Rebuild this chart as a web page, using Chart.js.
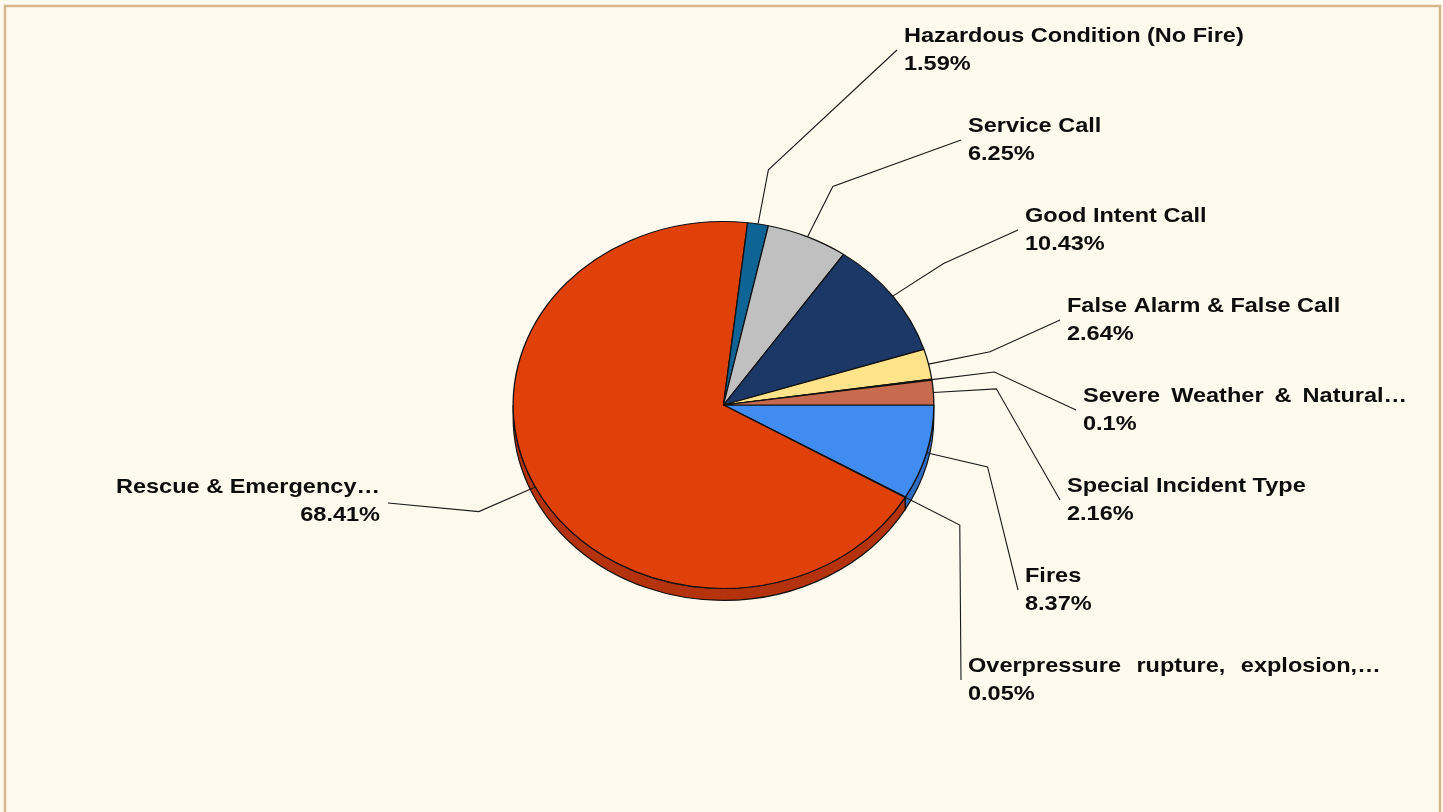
<!DOCTYPE html>
<html>
<head>
<meta charset="utf-8">
<script src="https://cdn.jsdelivr.net/npm/chart.js@4.4.1/dist/chart.umd.min.js"></script>
<style>
    body { margin: 0; background: #FFF9EE; }
    #wrap { position: relative; width: 1443px; height: 812px; }
</style>
</head>
<body>
<div id="wrap"><canvas id="incidentChart"></canvas></div>
<script>
// Incident types, clockwise from 3 o'clock
const categories = [
    'Fires',
    'Overpressure rupture, explosion, overheat (no fire)',
    'Rescue & Emergency Medical Service',
    'Hazardous Condition (No Fire)',
    'Service Call',
    'Good Intent Call',
    'False Alarm & False Call',
    'Severe Weather & Natural Disaster',
    'Special Incident Type'
];
// Labels as shown next to the slices
const shownLabels = [
    'Fires',
    'Overpressure rupture, explosion,…',
    'Rescue & Emergency…',
    'Hazardous Condition (No Fire)',
    'Service Call',
    'Good Intent Call',
    'False Alarm & False Call',
    'Severe Weather & Natural…',
    'Special Incident Type'
];
const shares = [8.37, 0.05, 68.41, 1.59, 6.25, 10.43, 2.64, 0.1, 2.16];
const sliceColors = ['#418CF0', '#6E9E3C', '#DF4109', '#0E6595', '#C0C0C0', '#1B3867', '#FFE38A', '#9B3C2F', '#C86A4D'];
const sideColors = ['#2F6DC4', '#557D2C', '#B5330C', '#0A4D72', '#999999', '#12284B', '#D9BE6C', '#7A2D23', '#A35339'];

const TILT = 184 / 211;   // squash of the pie
const DEPTH = 12;         // thickness of the pie edge
const TEXT_STRETCH = 1.12;

// where each label sits: first-line centre, alignment
const labelSpots = [
    { x: 1025, y: 576, align: 'left' },
    { x: 968, y: 666, align: 'left', gap: 8 },
    { x: 380, y: 487, align: 'right' },
    { x: 904, y: 36, align: 'left' },
    { x: 968, y: 126, align: 'left' },
    { x: 1025, y: 216, align: 'left' },
    { x: 1067, y: 306, align: 'left' },
    { x: 1083, y: 396, align: 'left', gap: 4 },
    { x: 1067, y: 486, align: 'left' }
];

// Draw the frame around the chart
const framePlugin = {
    id: 'frame',
    beforeDraw(chart) {
        const ctx = chart.ctx;
        ctx.save();
        ctx.fillStyle = '#FFF9EE';
        ctx.fillRect(0, 0, chart.width, chart.height);
        ctx.strokeStyle = '#D6B68C';
        ctx.lineWidth = 2.5;
        ctx.strokeRect(5, 6, chart.width - 8, chart.height + 20);
        ctx.restore();
    }
};

// Draw the pie edge, then squash the top face into an ellipse
const pie3dPlugin = {
    id: 'pie3d',
    beforeDatasetsDraw(chart) {
        const ctx = chart.ctx;
        const arcs = chart.getDatasetMeta(0).data;
        const cx = arcs[0].x, cy = arcs[0].y, r = arcs[0].outerRadius;
        const ry = r * TILT;

        ctx.save();
        ctx.lineWidth = 1.2;
        ctx.strokeStyle = '#111';
        arcs.forEach((arc, i) => {
            const s = Math.max(arc.startAngle, 0);
            const e = Math.min(arc.endAngle, Math.PI);
            if (e <= s) return;
            ctx.beginPath();
            ctx.ellipse(cx, cy, r, ry, 0, s, e, false);
            ctx.ellipse(cx, cy + DEPTH, r, ry, 0, e, s, true);
            ctx.closePath();
            ctx.fillStyle = sideColors[i];
            ctx.fill();
            ctx.stroke();
        });
        ctx.restore();

        ctx.save();
        ctx.translate(cx, cy);
        ctx.scale(1, TILT);
        ctx.translate(-cx, -cy);
    },
    afterDatasetsDraw(chart) {
        const ctx = chart.ctx;
        ctx.restore();

        const arcs = chart.getDatasetMeta(0).data;
        const cx = arcs[0].x, cy = arcs[0].y, r = arcs[0].outerRadius;

        ctx.save();
        ctx.strokeStyle = '#1a1a1a';
        ctx.lineWidth = 1.1;
        ctx.fillStyle = '#0d0d0d';
        ctx.font = 'bold 21px "Liberation Sans", Arial, sans-serif';
        ctx.textBaseline = 'middle';

        arcs.forEach((arc, i) => {
            const mid = (arc.startAngle + arc.endAngle) / 2;
            const ex = r * Math.cos(mid), ey = r * TILT * Math.sin(mid);
            const spot = labelSpots[i];
            const endX = spot.align === 'right' ? spot.x + 8 : spot.x - 7;
            const endY = spot.y + (spot.align === 'right' ? 16 : 14);

            ctx.beginPath();
            ctx.moveTo(cx + ex, cy + ey);
            ctx.lineTo(cx + ex * 1.3, cy + ey * 1.3);
            ctx.lineTo(endX, endY);
            ctx.stroke();

            drawText(ctx, shownLabels[i], spot.x, spot.y, spot.align, spot.gap || 0);
            drawText(ctx, shares[i] + '%', spot.x, spot.y + 28, spot.align, 0);
        });
        ctx.restore();
    }
};

function drawText(ctx, text, x, y, align, gap) {
    ctx.save();
    ctx.translate(x, y);
    ctx.scale(TEXT_STRETCH, 1);
    ctx.textAlign = align;
    ctx.wordSpacing = gap + 'px';
    ctx.fillText(text, 0, 0);
    ctx.restore();
}

new Chart(document.getElementById('incidentChart'), {
    type: 'pie',
    data: {
        labels: categories,
        datasets: [{
            data: shares,
            backgroundColor: sliceColors,
            borderColor: '#111',
            borderWidth: 1.3
        }]
    },
    options: {
        responsive: true,
        maintainAspectRatio: false,
        animation: false,
        rotation: 90,
        layout: {
            padding: { left: 512, right: 508, top: 194, bottom: 196 }
        },
        plugins: {
            legend: { display: false },
            tooltip: { enabled: false }
        }
    },
    plugins: [framePlugin, pie3dPlugin]
});
</script>
</body>
</html>
